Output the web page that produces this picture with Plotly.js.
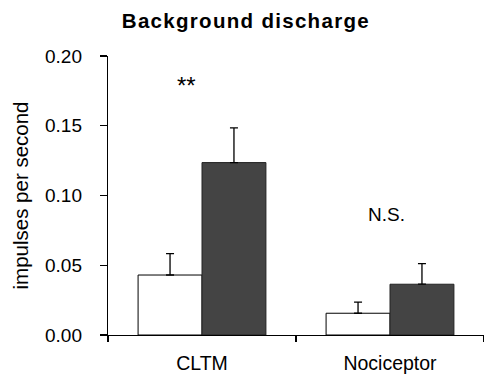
<!DOCTYPE html>
<html>
<head>
<meta charset="utf-8">
<script src="https://cdn.plot.ly/plotly-3.0.1.min.js"></script>
<style>html,body{margin:0;padding:0;background:#fff;}#chart{width:484px;height:378px;}
.gtitle{letter-spacing:1.3px;}</style>
</head>
<body>
<div id="chart"></div>
<script>
const categories = ["CLTM", "Nociceptor"];
const whiteValues = [0.043, 0.0156];
const whiteErrors = [0.0153, 0.0079];
const darkValues = [0.1236, 0.0364];
const darkErrors = [0.0249, 0.0147];
const yTickVals = [0, 0.05, 0.10, 0.15, 0.20];
const yTickText = ["0.00", "0.05", "0.10", "0.15", "0.20"];
const sigLabels = ["**", "N.S."];
const sigY = [0.179, 0.0866];

const FONT = "Liberation Sans, Arial, sans-serif";

const traces = [
  {
    type: "bar", x: categories, y: whiteValues, name: "white",
    marker: {color: "#ffffff", line: {color: "#000", width: 1}},
    error_y: {type: "data", symmetric: false, array: whiteErrors, arrayminus: [0, 0], color: "#000", thickness: 1.3, width: 4}
  },
  {
    type: "bar", x: categories, y: darkValues, name: "dark",
    marker: {color: "#444444", line: {color: "#222", width: 1}},
    error_y: {type: "data", symmetric: false, array: darkErrors, arrayminus: [0, 0], color: "#000", thickness: 1.3, width: 4}
  }
];

const layout = {
  width: 484, height: 378,
  margin: {l: 107.5, r: 0, t: 56, b: 43},
  paper_bgcolor: "#fff", plot_bgcolor: "#fff",
  showlegend: false,
  barmode: "group", bargap: 0.32, bargroupgap: 0,
  font: {family: FONT, color: "#000"},
  title: {
    text: "<b>Background discharge</b>",
    font: {family: FONT, size: 20.5, color: "#000"},
    xref: "container", yref: "container", x: 0.508, y: 1 - 21/378,
    xanchor: "center", yanchor: "middle"
  },
  xaxis: {
    type: "category", range: [-0.5, 1.5],
    tickson: "boundaries",
    showline: true, linecolor: "#000", linewidth: 1.2,
    ticks: "outside", ticklen: 6, tickcolor: "#000", tickwidth: 1.2,
    tickfont: {family: FONT, size: 19.5, color: "#000"},
    ticklabelstandoff: 10,
    showgrid: false, zeroline: false, fixedrange: true
  },
  yaxis: {
    range: [0, 0.2],
    tickvals: yTickVals, ticktext: yTickText,
    showline: true, linecolor: "#000", linewidth: 1.2,
    ticks: "outside", ticklen: 7, tickcolor: "#000", tickwidth: 1.2,
    tickfont: {family: FONT, size: 19, color: "#000"},
    ticklabelstandoff: 14,
    showgrid: false, zeroline: false, fixedrange: true,
    title: {text: "impulses per second", font: {family: FONT, size: 20.5, color: "#000"}, standoff: 10}
  },
  annotations: [
    {x: -0.08, y: sigY[0], xref: "x", yref: "y", text: sigLabels[0], showarrow: false, font: {family: FONT, size: 24, color: "#000"}},
    {x: 0.982, y: sigY[1], xref: "x", yref: "y", text: sigLabels[1], showarrow: false, font: {family: FONT, size: 19, color: "#000"}}
  ]
};

Plotly.newPlot("chart", traces, layout, {displayModeBar: false, staticPlot: true});
</script>
</body>
</html>
